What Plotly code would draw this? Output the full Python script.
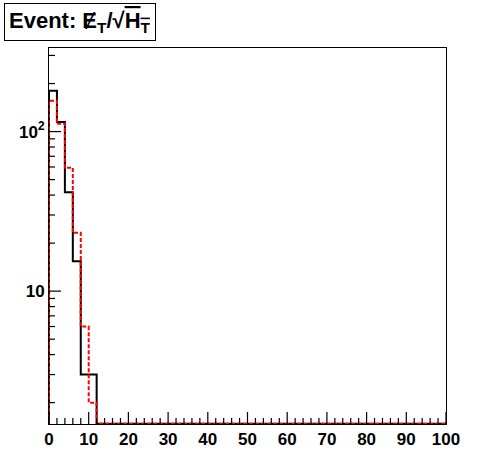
import numpy as np
import plotly.graph_objects as go

# Histogram data: 50 bins of width 2 from 0 to 100
bin_edges = list(range(0, 102, 2))
black_vals = [180, 115, 41.6, 15.4, 3.0, 3.0] + [0] * 44
red_vals = [156, 112, 59.3, 23.2, 6.0, 2.0] + [0] * 44

x_ticks = list(range(0, 101, 10))
x_minor = list(range(0, 101, 2))
y_ticks = [10, 100]
y_ticktext = ["10", "10<sup>2</sup>"]
y_minor = [m * 10 ** e for e in range(0, 3) for m in range(2, 10)]

x_range = [0, 100]
y_range_log = [np.log10(1.47), np.log10(334)]
floor = 10 ** (y_range_log[0] + 0.002)

def step_xy(vals):
    v = [x if x > 0 else floor for x in vals]
    xs = [bin_edges[0]] + list(bin_edges)
    ys = [floor] + v + [v[-1]]
    return xs, ys

fig = go.Figure()
bx, by = step_xy(black_vals)
rx, ry = step_xy(red_vals)
fig.add_trace(go.Scatter(x=bx, y=by, mode="lines", cliponaxis=False,
                         line=dict(shape="hv", color="black", width=2), hoverinfo="skip"))
fig.add_trace(go.Scatter(x=rx, y=ry, mode="lines", cliponaxis=False,
                         line=dict(shape="hv", color="red", width=2, dash="4px,2px"), hoverinfo="skip"))

tickfont = dict(family="Liberation Sans, Arial", size=17, color="black", weight="bold")
fig.update_layout(
    width=496, height=472,
    margin=dict(l=49, r=50, t=48, b=48, autoexpand=False),
    paper_bgcolor="white", plot_bgcolor="white",
    showlegend=False,
    xaxis=dict(range=x_range, tickmode="array", tickvals=x_ticks, ticks="",
               showgrid=False, zeroline=False, automargin=False,
               showline=True, linecolor="black", linewidth=1, mirror=True,
               tickfont=tickfont),
    yaxis=dict(type="log", range=y_range_log, tickmode="array", tickvals=y_ticks, ticktext=y_ticktext,
               ticks="", showgrid=False, zeroline=False,
               automargin=False, showline=True, linecolor="black", linewidth=1, mirror=True,
               tickfont=tickfont),
)

# tick marks drawn inside the frame, positioned by the axes
for xv in x_minor:
    ln = 12 if xv in x_ticks else 6
    fig.add_shape(type="line", xref="x", yref="paper", ysizemode="pixel", yanchor=0,
                  x0=xv, x1=xv, y0=0, y1=ln, line=dict(color="black", width=1.2), layer="above")
for yv in y_minor + y_ticks:
    if yv < 10 ** y_range_log[0] or yv > 10 ** y_range_log[1]:
        continue
    ln = 12 if yv in y_ticks else 6
    fig.add_shape(type="line", xref="x", yref="y", xsizemode="pixel", xanchor=x_range[0],
                  x0=0, x1=ln, y0=yv, y1=yv, line=dict(color="black", width=1.2), layer="above")

fig.add_annotation(
    xref="paper", yref="paper", x=-45/397, y=1 + 45/376, xanchor="left", yanchor="top",
    text="<b>Event: \u0246<sub>T</sub>/\u221a<span style='text-decoration:overline'>H<sub>T</sub></span></b>",
    showarrow=False, font=dict(family="Liberation Sans, Arial", size=22, color="black"),
    bordercolor="black", borderwidth=1, borderpad=4, bgcolor="white", align="left",
)

fig.write_html("out.html", config={"displayModeBar": False},
               post_script="document.body.style.margin='0';")
